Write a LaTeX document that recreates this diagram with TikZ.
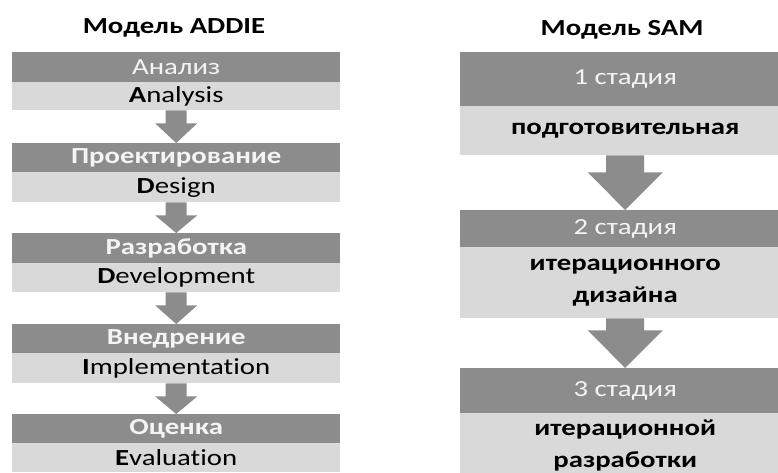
\documentclass[tikz,border=0pt]{standalone}
\usepackage{fontspec}
\setmainfont{Carlito}[FakeStretch=1.25, Ligatures=NoCommon]
\usetikzlibrary{calc}
\definecolor{darkg}{HTML}{8C8C8C}
\definecolor{lightg}{HTML}{D9D9D9}
\definecolor{txtw}{HTML}{F4F4F4}
\begin{document}
\begin{tikzpicture}[x=1pt,y=-1pt,
  dbox/.style={fill=darkg, draw=none, anchor=north west, inner sep=0pt, text=txtw, font=\fontsize{23}{25}\selectfont},
  lbox/.style={fill=lightg, draw=none, anchor=north west, inner sep=0pt, text=black, font=\fontsize{23}{25}\selectfont},
  bf/.style={font=\bfseries\fontsize{23}{25}\selectfont},
  bftwo/.style={align=center, font=\bfseries\fontsize{23}{32}\selectfont},
  ttl/.style={font=\bfseries\fontsize{23}{25}\selectfont, text=black, inner sep=0pt},
  arr/.style={fill=darkg, draw=none}]
\useasboundingbox (0,0) rectangle (778,473);
\fill[white] (0,0) rectangle (778,473);
% titles
\node[ttl] (t1) at (174,28) {Модель ADDIE};
\node[ttl] (t2) at (622,30) {Модель SAM};
% left column
\node[dbox, minimum width=328pt, minimum height=30pt] (d1) at (12,52) {Анализ};
\node[lbox, minimum width=328pt, minimum height=28pt] (l1) at (12,82) {\textbf{A}nalysis};
\node[dbox, bf, minimum width=328pt, minimum height=29pt] (d2) at (12,143) {Проектирование};
\node[lbox, minimum width=328pt, minimum height=30pt] (l2) at (12,172) {\textbf{D}esign};
\node[dbox, bf, minimum width=328pt, minimum height=30pt] (d3) at (12,233) {Разработка};
\node[lbox, minimum width=328pt, minimum height=29pt] (l3) at (12,263) {\textbf{D}evelopment};
\node[dbox, bf, minimum width=328pt, minimum height=29pt] (d4) at (12,324) {Внедрение};
\node[lbox, minimum width=328pt, minimum height=30pt] (l4) at (12,353) {\textbf{I}mplementation};
\node[dbox, bf, minimum width=328pt, minimum height=29pt] (d5) at (12,414) {Оценка};
\node[lbox, minimum width=328pt, minimum height=29pt] (l5) at (12,443) {\textbf{E}valuation};
% left arrows
\foreach \a/\b in {l1/d2, l2/d3, l3/d4, l4/d5}{
  \fill[arr] ($(\a.south)+(-10.5,0)$) -- ($(\a.south)+(-10.5,13)$) -- ($(\a.south)+(-21,13)$) -- (\b.north) -- ($(\a.south)+(21,13)$) -- ($(\a.south)+(10.5,13)$) -- ($(\a.south)+(10.5,0)$) -- cycle;
}
% right column
\node[dbox, minimum width=330pt, minimum height=54pt] (s1) at (460,52) {1 стадия};
\node[lbox, bf, minimum width=330pt, minimum height=49pt] (p1) at (460,106) {подготовительная};
\node[dbox, minimum width=330pt, minimum height=37pt] (s2) at (460,210) {2 стадия};
\node[lbox, bftwo, minimum width=330pt, minimum height=71pt] (p2) at (460,247) {итерационного\\дизайна};
\node[dbox, minimum width=330pt, minimum height=45pt] (s3) at (460,368) {3 стадия};
\node[lbox, bftwo, minimum width=330pt, minimum height=64pt] (p3) at (460,413) {итерационной\\разработки};
% right arrows
\foreach \a/\b/\h in {p1/s2/17, p2/s3/12}{
  \fill[arr] ($(\a.south)+(-19,0)$) -- ($(\a.south)+(-19,\h)$) -- ($(\a.south)+(-37.5,\h)$) -- (\b.north) -- ($(\a.south)+(37.5,\h)$) -- ($(\a.south)+(19,\h)$) -- ($(\a.south)+(19,0)$) -- cycle;
}
\end{tikzpicture}
\end{document}
